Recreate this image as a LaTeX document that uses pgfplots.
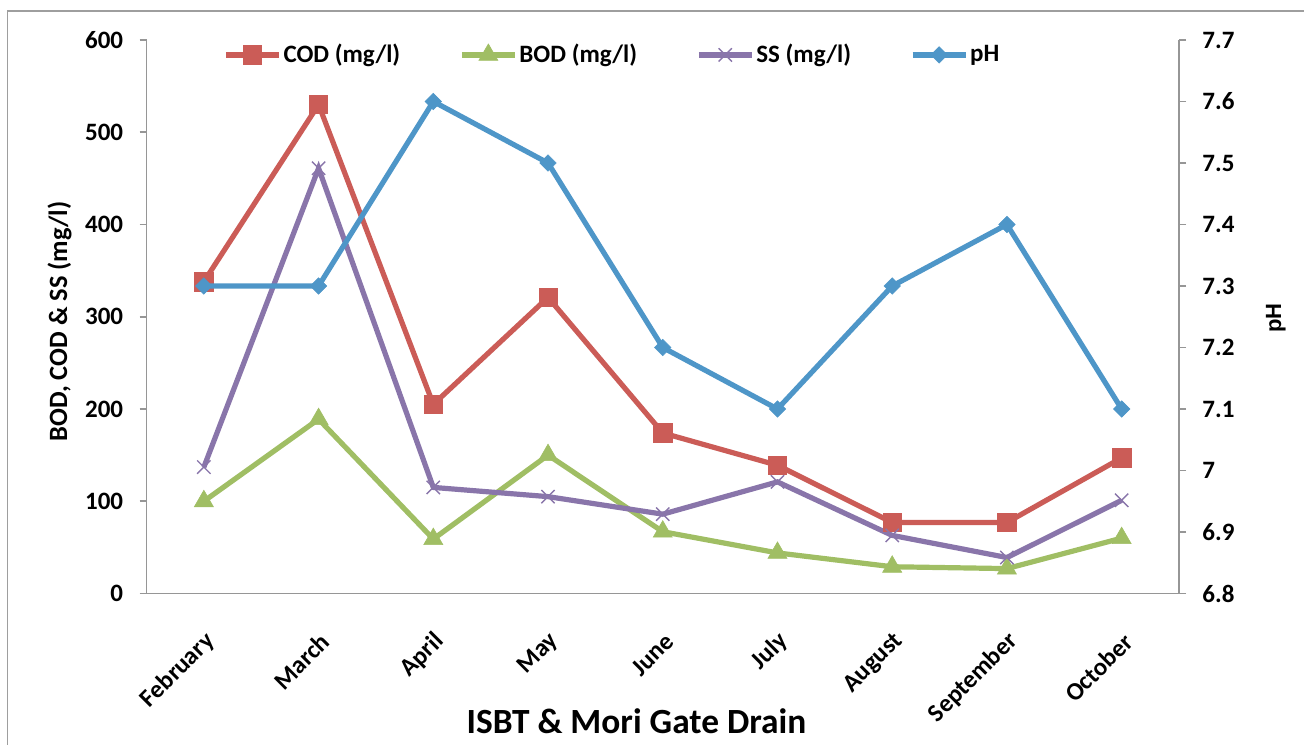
\documentclass[border=0pt]{standalone}
\usepackage{pgfplots}
\pgfplotsset{compat=1.18}
\usepackage{fontspec}
\setmainfont{Carlito}
\newfontfamily\arialfont{Liberation Sans}
\definecolor{codc}{RGB}{203,92,87}
\definecolor{bodc}{RGB}{160,190,100}
\definecolor{ssc}{RGB}{137,117,170}
\definecolor{phc}{RGB}{78,150,200}
\definecolor{axc}{RGB}{150,150,150}
\begin{document}
\begin{tikzpicture}
\useasboundingbox (0,0) rectangle (652pt,372pt);
\draw[line width=0.8pt, color=black!38] (3.7pt,-10pt) rectangle (670pt,366.5pt);
\pgfplotsset{
 common/.style={
  scale only axis, width=516.25pt, height=276.75pt,
  at={(73.25pt,75.25pt)}, anchor=south west,
  xmin=-0.5, xmax=8.5,
  axis line style={axc, line width=0.8pt},
  tick style={axc, line width=0.8pt},
  major tick length=3.5pt,
  tick align=outside,
  ticklabel style={font=\fontsize{12.5}{15}\selectfont\bfseries},
  /pgf/number format/assume math mode=true,
  legend image code/.code={\draw[mark repeat=2,mark phase=2,##1] plot coordinates {(0pt,0pt) (13.25pt,0pt) (26.5pt,0pt)};},
 },
 codst/.style={codc, line width=2.6pt, mark=square*, mark size=4.6pt, mark options={line width=0.3pt}},
 bodst/.style={bodc, line width=2.6pt, mark=triangle*, mark size=5.5pt, mark options={line width=0.3pt}},
 ssst/.style={ssc, line width=2.6pt, mark=x, mark size=4.7pt, mark options={line width=0.7pt}},
 phst/.style={phc, line width=2.6pt, mark=square*, mark size=2.9pt, mark options={line width=0.3pt, rotate=45}},
}
\begin{axis}[common,
  axis x line*=bottom, axis y line*=left,
  ymin=0, ymax=600, ytick={0,100,200,300,400,500,600},
  xtick={0,1,2,3,4,5,6,7,8},
  xticklabels={February,March,April,May,June,July,August,September,October},
  x tick style={draw=none},
  xticklabel style={inner sep=0pt, xshift=3.5pt, yshift=-18.5pt, rotate=45, anchor=east},
  yticklabel style={inner sep=0pt, xshift=-8pt},
]
\addplot[codst] coordinates {(0,338) (1,530) (2,205) (3,321) (4,174) (5,139) (6,77) (7,77) (8,147)};
\addplot[bodst] coordinates {(0,100) (1,189) (2,59) (3,150) (4,67) (5,44) (6,29) (7,27) (8,60)};
\addplot[ssst] coordinates {(0,137) (1,461) (2,115) (3,105) (4,86) (5,121) (6,63) (7,39) (8,101)};
\end{axis}
\begin{axis}[common,
  axis x line=none, axis y line*=right,
  ymin=6.8, ymax=7.7, ytick={6.8,6.9,7,7.1,7.2,7.3,7.4,7.5,7.6,7.7},
  yticklabel style={inner sep=0pt, xshift=8pt},
  legend style={draw=none, fill=none, at={(0.074,0.973)}, anchor=west, inner sep=0pt,
    legend columns=4,
    nodes={inner sep=1pt, font=\fontsize{12.5}{15}\selectfont\bfseries},
    /tikz/every even column/.append style={column sep=28.5pt}},
  legend cell align=left,
]
\addlegendimage{codst}
\addlegendentry{COD (mg/l)}
\addlegendimage{bodst}
\addlegendentry{BOD (mg/l)}
\addlegendimage{ssst}
\addlegendentry{SS (mg/l)}
\addplot[phst] coordinates {(0,7.3) (1,7.3) (2,7.6) (3,7.5) (4,7.2) (5,7.1) (6,7.3) (7,7.4) (8,7.1)};
\addlegendentry{pH}
\end{axis}
\node[rotate=90, anchor=base, font=\fontsize{13.2}{15}\selectfont\bfseries] at (33.5pt,211.25pt) {BOD, COD \& SS (mg/l)};
\node[anchor=base, font=\fontsize{17.7}{20}\selectfont\bfseries] at (318.25pt,5.5pt) {ISBT \& Mori Gate Drain};
\node[rotate=90, anchor=base, font=\arialfont\fontsize{11}{13}\selectfont\bfseries] at (640.5pt,213pt) {pH};
\end{tikzpicture}
\end{document}
